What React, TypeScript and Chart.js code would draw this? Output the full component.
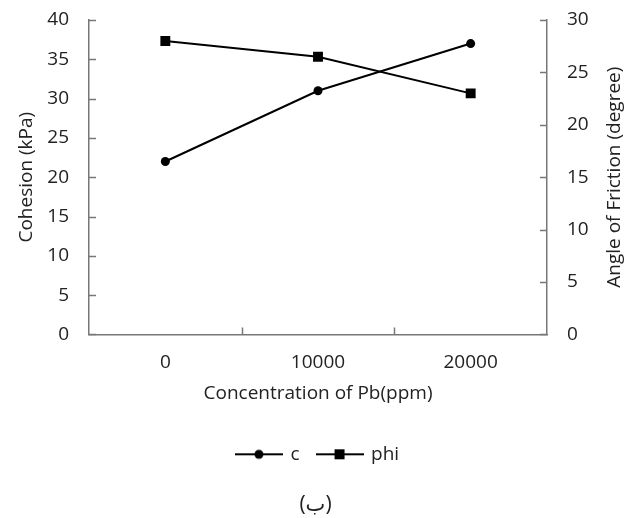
import React, { useEffect, useRef } from "react";
import { Chart, registerables } from "chart.js";

Chart.register(...registerables);

const categories = ["0", "10000", "20000"];
const cohesion = [22, 31, 37];
const phi = [28, 26.5, 23];
const leftTicks = { min: 0, max: 40, step: 5 };
const rightTicks = { min: 0, max: 30, step: 5 };
const FONT = "'Open Sans', 'DejaVu Sans', sans-serif";
const FS = 19;
const TEXT = "#222222";
const AXIS = "#777777";

function makeIcon(kind: "circle" | "rect") {
  const c = document.createElement("canvas");
  c.width = 48;
  c.height = 12;
  const ctx = c.getContext("2d")!;
  ctx.strokeStyle = "#000";
  ctx.lineWidth = 2;
  ctx.beginPath();
  ctx.moveTo(0, 6);
  ctx.lineTo(48, 6);
  ctx.stroke();
  ctx.fillStyle = "#000";
  ctx.beginPath();
  if (kind === "circle") ctx.arc(24, 6, 4.5, 0, Math.PI * 2);
  else ctx.rect(19, 1, 10, 10);
  ctx.fill();
  return c;
}

const innerTicks = {
  id: "innerTicks",
  afterDraw(chart: any) {
    const { ctx, chartArea } = chart;
    const len = 7;
    ctx.save();
    ctx.strokeStyle = AXIS;
    ctx.lineWidth = 1.5;
    const y = chart.scales.y;
    const y1 = chart.scales.y1;
    const x = chart.scales.x;
    ctx.beginPath();
    y.ticks.forEach((t: any) => {
      const p = Math.round(y.getPixelForValue(t.value)) + 0.5;
      ctx.moveTo(chartArea.left, p);
      ctx.lineTo(chartArea.left + len, p);
    });
    y1.ticks.forEach((t: any) => {
      const p = Math.round(y1.getPixelForValue(t.value)) + 0.5;
      ctx.moveTo(chartArea.right - len, p);
      ctx.lineTo(chartArea.right, p);
    });
    for (let i = 0; i < categories.length - 1; i++) {
      const p = Math.round((x.getPixelForValue(i) + x.getPixelForValue(i + 1)) / 2) + 0.5;
      ctx.moveTo(p, chartArea.bottom);
      ctx.lineTo(p, chartArea.bottom - len);
    }
    ctx.stroke();
    // right axis title, reading bottom-to-top
    ctx.fillStyle = TEXT;
    ctx.font = `${FS}px ${FONT}`;
    ctx.textAlign = "center";
    ctx.textBaseline = "middle";
    ctx.translate(y1.right - 5, (chartArea.top + chartArea.bottom) / 2);
    ctx.rotate(-Math.PI / 2);
    ctx.fillText("Angle of Friction (degree)", 0, 0);
    ctx.restore();
  },
};

export default function App() {
  const ref = useRef<HTMLCanvasElement>(null);
  useEffect(() => {
    const icons = [makeIcon("circle"), makeIcon("rect")];
    const chart = new Chart(ref.current!, {
      type: "line",
      data: {
        labels: categories,
        datasets: [
          {
            label: "c",
            data: cohesion,
            yAxisID: "y",
            borderColor: "#000",
            backgroundColor: "#000",
            borderWidth: 2,
            pointStyle: "circle",
            pointRadius: 4.5,
            pointBorderWidth: 0,
          },
          {
            label: "phi",
            data: phi,
            yAxisID: "y1",
            borderColor: "#000",
            backgroundColor: "#000",
            borderWidth: 2,
            pointStyle: "rect",
            pointRadius: 7,
            pointBorderWidth: 0,
          },
        ],
      },
      options: {
        animation: false,
        responsive: true,
        maintainAspectRatio: false,
        layout: { padding: { top: 20, left: 11, right: 22, bottom: 0 } },
        font: { family: FONT },
        plugins: {
          tooltip: { enabled: false },
          legend: {
            position: "bottom",
            fullSize: false,
            labels: {
              usePointStyle: true,
              pointStyleWidth: 44,
              boxHeight: 12,
              padding: 18,
              color: TEXT,
              font: { family: FONT, size: FS },
              generateLabels: (ch: any) =>
                ch.data.datasets.map((ds: any, i: number) => ({
                  text: ds.label,
                  pointStyle: icons[i],
                  fillStyle: "#000",
                  strokeStyle: "#000",
                  lineWidth: 0,
                  hidden: false,
                  datasetIndex: i,
                  fontColor: TEXT,
                })),
            },
          },
          title: {
            display: true,
            position: "bottom",
            text: "(ب)",
            color: TEXT,
            font: { family: FONT, size: 21, weight: "normal" },
            padding: { top: 19, bottom: 0 },
          },
        },
        scales: {
          x: {
            type: "category",
            offset: true,
            afterFit: (s: any) => {
              s.height = 92.4;
              s.paddingLeft = 0;
              s.paddingRight = 0;
            },
            grid: { display: true, drawOnChartArea: false, drawTicks: false, offset: true },
            border: { display: true, color: AXIS, width: 1.5 },
            ticks: { color: TEXT, font: { family: FONT, size: FS }, padding: 17 },
            title: {
              display: true,
              text: "Concentration of Pb(ppm)",
              color: TEXT,
              font: { family: FONT, size: FS },
              padding: { top: 8, bottom: 22 },
            },
          },
          y: {
            position: "left",
            min: leftTicks.min,
            max: leftTicks.max,
            afterFit: (s: any) => {
              s.width = 78;
              s.paddingTop = 0;
              s.paddingBottom = 0;
            },
            grid: { display: true, drawOnChartArea: false, drawTicks: false },
            border: { display: true, color: AXIS, width: 1.5 },
            ticks: { stepSize: leftTicks.step, color: TEXT, font: { family: FONT, size: FS }, padding: 20 },
            title: {
              display: true,
              text: "Cohesion (kPa)",
              color: TEXT,
              font: { family: FONT, size: FS },
              padding: { top: 4, bottom: 4 },
            },
          },
          y1: {
            position: "right",
            min: rightTicks.min,
            max: rightTicks.max,
            afterFit: (s: any) => {
              s.width = 73;
              s.paddingTop = 0;
              s.paddingBottom = 0;
            },
            grid: { display: true, drawOnChartArea: false, drawTicks: false },
            border: { display: true, color: AXIS, width: 1.5 },
            ticks: { stepSize: rightTicks.step, color: TEXT, font: { family: FONT, size: FS }, padding: 20 },
            title: {
              display: true,
              text: "Angle of Friction (degree)",
              color: "rgba(0,0,0,0)",
              font: { family: FONT, size: FS },
              padding: { top: 4, bottom: 4 },
            },
          },
        },
      },
      plugins: [innerTicks],
    } as any);
    return () => chart.destroy();
  }, []);
  return (
    <div style={{ position: "fixed", left: 0, top: 0, width: 642, height: 518, background: "#fff" }}>
      <canvas ref={ref} />
    </div>
  );
}
